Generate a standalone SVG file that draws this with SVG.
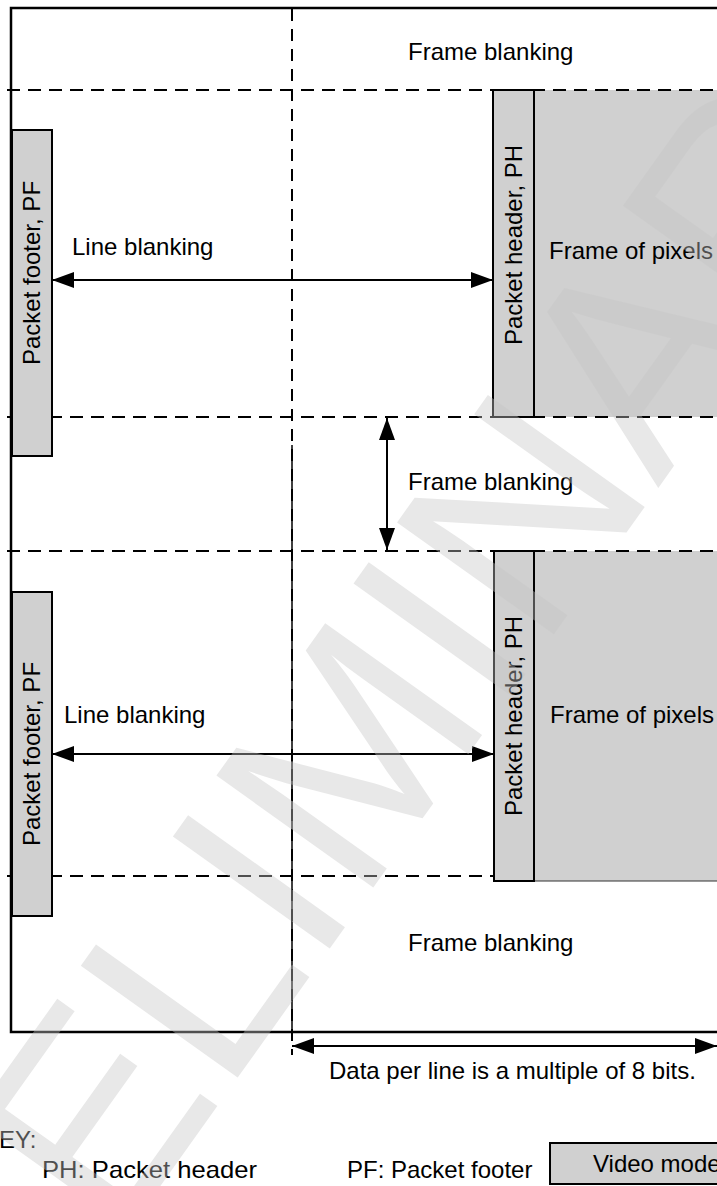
<svg xmlns="http://www.w3.org/2000/svg" width="717" height="1186" viewBox="0 0 717 1186">
<style>
.t{font-family:"Liberation Sans",Arial,sans-serif;font-size:24px;fill:#000}
.k{font-family:"Liberation Sans",Arial,sans-serif;font-size:24px;fill:#000}
.solid{stroke:#000;stroke-width:2.5;fill:none}
.dash{stroke:#000;stroke-width:2;stroke-dasharray:13 8;fill:none}
.vdash{stroke:#000;stroke-width:2;stroke-dasharray:12 8;fill:none}
.box{fill:#d0d0d0;stroke:#000;stroke-width:2}
.fill{fill:#d0d0d0;stroke:none}
.arr{stroke:#000;stroke-width:2;fill:none;marker-start:url(#ah);marker-end:url(#ah)}
.wm{font-family:"Liberation Sans",Arial,sans-serif;font-size:280px;fill:#c6c6c6;opacity:0.4}
</style>
<defs>
<marker id="ah" viewBox="0 0 22 16" refX="22" refY="8" markerWidth="22" markerHeight="16" markerUnits="userSpaceOnUse" orient="auto-start-reverse">
<path d="M0,0 L22,8 L0,16 z" fill="#000"/>
</marker>
</defs>
<rect width="717" height="1186" fill="#fff"/>

<g id="frame-top">
<rect class="fill" x="534" y="90" width="190" height="327"/>
</g>
<g id="frame-bottom">
<rect class="fill" x="534" y="551" width="190" height="330"/>
<line x1="534" y1="881" x2="720" y2="881" stroke="#333" stroke-width="1.2"/>
</g>

<g id="outline">
<polyline class="solid" points="720,8 11,8 11,1032 720,1032"/>
</g>

<g id="grid">
<line class="dash" x1="7" y1="90" x2="720" y2="90"/>
<line class="dash" x1="7" y1="417" x2="720" y2="417"/>
<line class="dash" x1="7" y1="551" x2="720" y2="551"/>
<line class="dash" x1="7" y1="876" x2="493" y2="876"/>
<line class="vdash" x1="292" y1="9" x2="292" y2="1055"/>
<line stroke="#000" stroke-width="1.5" x1="292" y1="445" x2="292" y2="1032"/>
</g>

<g id="pf-top">
<rect class="box" x="12" y="130" width="40" height="326"/>
<text class="t" transform="translate(40,273) rotate(-90)" text-anchor="middle">Packet footer, PF</text>
</g>
<g id="pf-bottom">
<rect class="box" x="12" y="592" width="40" height="324"/>
<text class="t" transform="translate(40,754) rotate(-90)" text-anchor="middle">Packet footer, PF</text>
</g>
<g id="ph-top">
<rect class="box" x="493" y="90" width="41" height="327"/>
<text class="t" transform="translate(522,245) rotate(-90)" text-anchor="middle">Packet header, PH</text>
</g>
<g id="ph-bottom">
<rect class="box" x="494" y="551" width="40" height="330"/>
<text class="t" transform="translate(522,716) rotate(-90)" text-anchor="middle">Packet header, PH</text>
</g>

<g id="labels">
<text class="t" x="408" y="60">Frame blanking</text>
<text class="t" x="408" y="490">Frame blanking</text>
<text class="t" x="408" y="951">Frame blanking</text>
<text class="t" x="72" y="255">Line blanking</text>
<text class="t" x="64" y="723">Line blanking</text>
<text class="t" x="549" y="259">Frame of pixels</text>
<text class="t" x="550" y="723">Frame of pixels</text>
<text class="t" x="329" y="1079">Data per line is a multiple of 8 bits.</text>
</g>

<g id="connectors">
<line class="arr" x1="52" y1="280" x2="493" y2="280"/>
<line class="arr" x1="52" y1="754" x2="494" y2="754"/>
<line class="arr" x1="387" y1="418" x2="387" y2="550"/>
<line class="arr" x1="292" y1="1046" x2="717" y2="1046"/>
</g>

<g id="key">
<text class="k" x="-17" y="1148">KEY:</text>
<text class="k" x="42" y="1178" textLength="215" lengthAdjust="spacingAndGlyphs">PH: Packet header</text>
<text class="k" x="347" y="1178">PF: Packet footer</text>
<rect class="box" x="550" y="1143" width="180" height="41"/>
<text class="k" x="593" y="1172">Video mode</text>
</g>

<g id="watermark">
<text class="wm" transform="translate(-110,1565) rotate(-54.5)">PRELIMINARY</text>
</g>
</svg>
